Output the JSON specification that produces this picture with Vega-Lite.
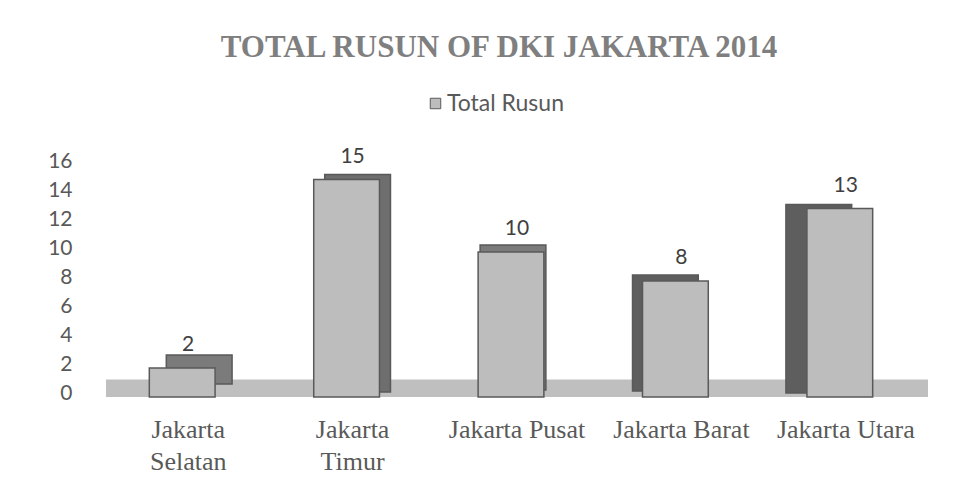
{
  "$schema": "https://vega.github.io/schema/vega-lite/v6.json",
  "width": 822,
  "height": 232,
  "autosize": {"type": "none"},
  "padding": {"left": 106, "top": 165, "right": 34, "bottom": 91},
  "background": "white",
  "config": {
    "view": {"stroke": null},
    "font": "Lato",
    "axisY": {
      "tickCount": 8,
      "labelOverlap": false,
      "labelBound": false,
      "labelFlush": false,
      "domain": false,
      "ticks": false,
      "grid": false,
      "labelFont": "Lato",
      "labelFontSize": 21,
      "labelColor": "#595959",
      "labelPadding": 34,
      "labelOffset": -4
    }
  },
  "title": {
    "text": "TOTAL RUSUN OF DKI JAKARTA 2014",
    "font": "Liberation Serif",
    "fontSize": 31,
    "fontWeight": "bold",
    "color": "#7f7f7f",
    "anchor": "middle",
    "frame": "group",
    "dx": -18,
    "offset": 28
  },
  "data": {
    "values": [
      {"region": "Jakarta Selatan", "total": 2, "series": "Total Rusun"},
      {"region": "Jakarta Timur", "total": 15, "series": "Total Rusun"},
      {"region": "Jakarta Pusat", "total": 10, "series": "Total Rusun"},
      {"region": "Jakarta Barat", "total": 8, "series": "Total Rusun"},
      {"region": "Jakarta Utara", "total": 13, "series": "Total Rusun"}
    ]
  },
  "layer": [
    {
      "data": {"values": [{}]},
      "mark": {"type": "rect", "color": "#bfbfbf"},
      "encoding": {
        "y": {"datum": 0, "type": "quantitative", "title": null, "scale": {"domain": [0, 16], "nice": false}},
        "y2": {"datum": 1.2}
      }
    },
    {
      "transform": [{"filter": "datum.region == 'Jakarta Selatan'"}],
      "mark": {"type": "bar", "color": "#7b7b7b", "stroke": "#595959", "strokeWidth": 1.5, "xOffset": 11, "yOffset": -13},
      "encoding": {
        "x": {"field": "region", "type": "nominal", "sort": null, "title": null, "scale": {"paddingInner": 0.6, "paddingOuter": 0.3}},
        "y": {"field": "total", "type": "quantitative", "title": null}
      }
    },
    {
      "transform": [{"filter": "datum.region == 'Jakarta Timur'"}],
      "mark": {"type": "bar", "color": "#6e6e6e", "stroke": "#595959", "strokeWidth": 1.5, "xOffset": 5, "yOffset": -5},
      "encoding": {
        "x": {"field": "region", "type": "nominal", "sort": null, "title": null},
        "y": {"field": "total", "type": "quantitative", "title": null}
      }
    },
    {
      "transform": [{"filter": "datum.region == 'Jakarta Pusat'"}],
      "mark": {"type": "bar", "color": "#7b7b7b", "stroke": "#595959", "strokeWidth": 1.5, "xOffset": -4, "yOffset": -7},
      "encoding": {
        "x": {"field": "region", "type": "nominal", "sort": null, "title": null},
        "y": {"field": "total", "type": "quantitative", "title": null}
      }
    },
    {
      "transform": [{"filter": "datum.region == 'Jakarta Barat'"}],
      "mark": {"type": "bar", "color": "#5e5e5e", "stroke": "#595959", "strokeWidth": 1.5, "xOffset": -16, "yOffset": -6},
      "encoding": {
        "x": {"field": "region", "type": "nominal", "sort": null, "title": null},
        "y": {"field": "total", "type": "quantitative", "title": null}
      }
    },
    {
      "transform": [{"filter": "datum.region == 'Jakarta Utara'"}],
      "mark": {"type": "bar", "color": "#5e5e5e", "stroke": "#595959", "strokeWidth": 1.5, "xOffset": -27, "yOffset": -4},
      "encoding": {
        "x": {"field": "region", "type": "nominal", "sort": null, "title": null},
        "y": {"field": "total", "type": "quantitative", "title": null}
      }
    },
    {
      "mark": {"type": "bar", "stroke": "#595959", "strokeWidth": 1.5, "xOffset": -6},
      "encoding": {
        "x": {
          "field": "region",
          "type": "nominal",
          "sort": null,
          "title": null,
          "axis": {
            "domain": false,
            "ticks": false,
            "labelAngle": 0,
            "labelAlign": "center",
            "labelFont": "Liberation Serif",
            "labelFontSize": 26,
            "labelColor": "#595959",
            "labelPadding": 19,
            "labelLineHeight": 32,
            "labelBaseline": "top",
            "labelLimit": 300,
            "labelOverlap": false,
            "labelExpr": "(datum.value == 'Jakarta Selatan' || datum.value == 'Jakarta Timur') ? split(datum.value, ' ') : datum.value"
          }
        },
        "y": {"field": "total", "type": "quantitative", "title": null},
        "color": {
          "field": "series",
          "type": "nominal",
          "scale": {"range": ["#bdbdbd"]},
          "legend": {
            "orient": "none",
            "legendX": 318,
            "legendY": -73,
            "title": null,
            "direction": "horizontal",
            "padding": 0,
            "symbolType": "square",
            "symbolSize": 110,
            "symbolStrokeColor": "#595959",
            "symbolStrokeWidth": 1,
            "symbolOpacity": 1,
            "labelFont": "Lato",
            "labelFontSize": 23,
            "labelColor": "#595959",
            "labelOffset": 0
          }
        }
      }
    },
    {
      "mark": {"type": "text", "dy": -17, "baseline": "alphabetic", "font": "Lato", "fontSize": 21, "color": "#404040"},
      "encoding": {
        "x": {"field": "region", "type": "nominal", "sort": null, "title": null},
        "y": {"field": "total", "type": "quantitative", "title": null},
        "text": {"field": "total", "type": "quantitative"}
      }
    }
  ]
}
